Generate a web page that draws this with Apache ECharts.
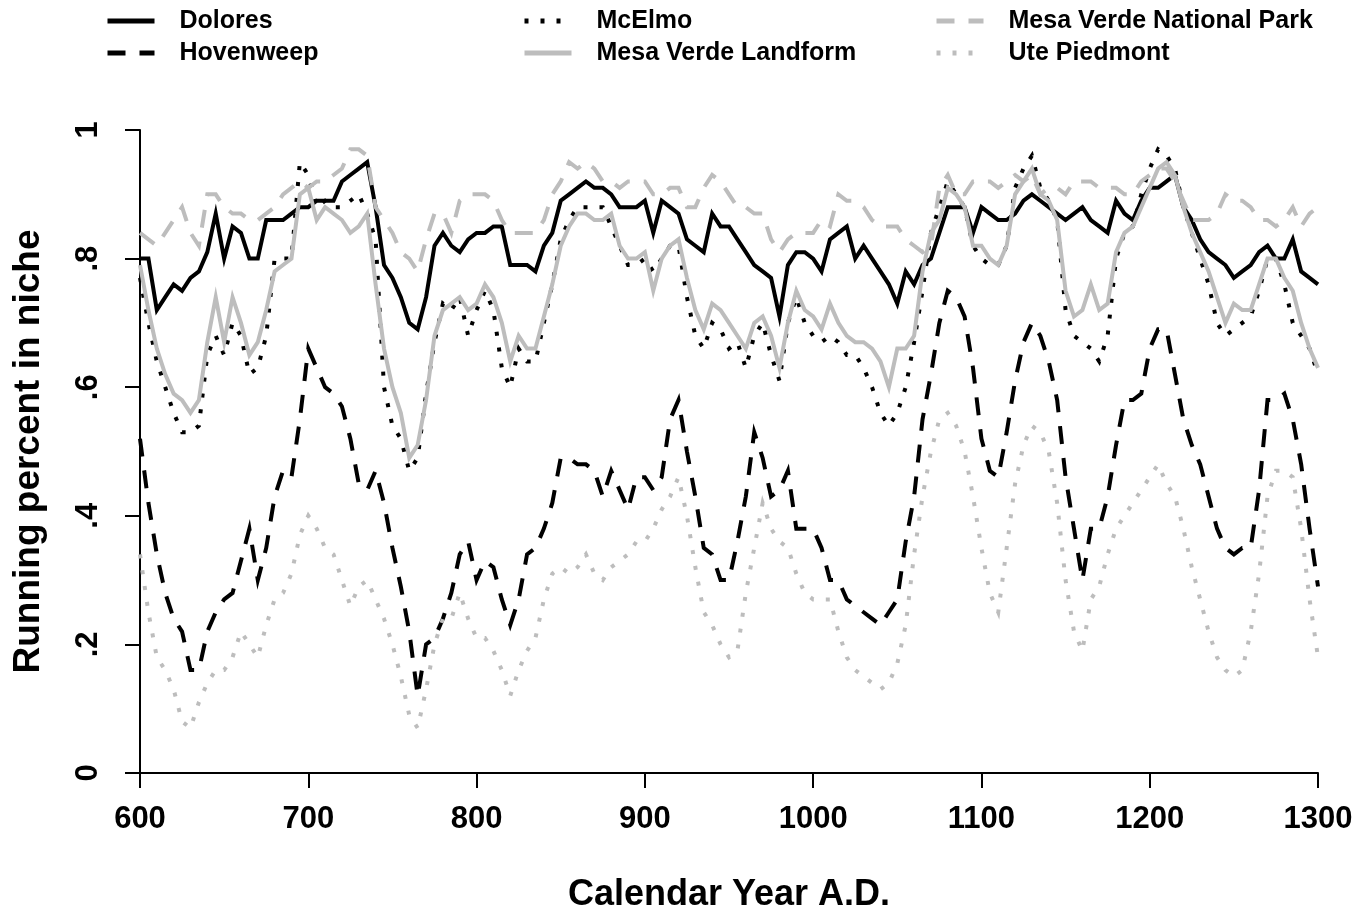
<!DOCTYPE html>
<html>
<head>
<meta charset="utf-8">
<title>Running percent in niche</title>
<script src="https://cdn.jsdelivr.net/npm/echarts@6/dist/echarts.min.js"></script>
<style>
    html, body { margin: 0; padding: 0; background: #fff; }
    #chart { width: 1371px; height: 914px; }
</style>
</head>
<body>
<div id="chart"></div>
<script>
// Годы отсчётов: шаг 5 лет, 600..1300
const years = [];
for (let y = 600; y <= 1300; y += 5) {
    years.push(y);
}

// Значения, по 10 точек в строке (50 лет)
const dolores = [
    0.80, 0.80, 0.72, 0.74, 0.76, 0.75, 0.77, 0.78, 0.81, 0.87,
    0.80, 0.85, 0.84, 0.80, 0.80, 0.86, 0.86, 0.86, 0.87, 0.88,
    0.88, 0.89, 0.89, 0.89, 0.92, 0.93, 0.94, 0.95, 0.88, 0.79,
    0.77, 0.74, 0.70, 0.69, 0.74, 0.82, 0.84, 0.82, 0.81, 0.83,
    0.84, 0.84, 0.85, 0.85, 0.79, 0.79, 0.79, 0.78, 0.82, 0.84,
    0.89, 0.90, 0.91, 0.92, 0.91, 0.91, 0.90, 0.88, 0.88, 0.88,
    0.89, 0.84, 0.89, 0.88, 0.87, 0.83, 0.82, 0.81, 0.87, 0.85,
    0.85, 0.83, 0.81, 0.79, 0.78, 0.77, 0.71, 0.79, 0.81, 0.81,
    0.80, 0.78, 0.83, 0.84, 0.85, 0.80, 0.82, 0.80, 0.78, 0.76,
    0.73, 0.78, 0.76, 0.79, 0.80, 0.84, 0.88, 0.88, 0.88, 0.84,
    0.88, 0.87, 0.86, 0.86, 0.87, 0.89, 0.90, 0.89, 0.88, 0.87,
    0.86, 0.87, 0.88, 0.86, 0.85, 0.84, 0.89, 0.87, 0.86, 0.89,
    0.91, 0.91, 0.92, 0.93, 0.88, 0.86, 0.83, 0.81, 0.80, 0.79,
    0.77, 0.78, 0.79, 0.81, 0.82, 0.80, 0.80, 0.83, 0.78, 0.77,
    0.76
];

const hovenweep = [
    0.52, 0.42, 0.34, 0.28, 0.24, 0.22, 0.16, 0.16, 0.22, 0.25,
    0.27, 0.28, 0.33, 0.38, 0.30, 0.35, 0.43, 0.47, 0.46, 0.55,
    0.66, 0.63, 0.60, 0.59, 0.57, 0.52, 0.45, 0.44, 0.47, 0.42,
    0.35, 0.29, 0.22, 0.12, 0.20, 0.21, 0.24, 0.28, 0.34, 0.36,
    0.30, 0.33, 0.32, 0.27, 0.23, 0.27, 0.34, 0.35, 0.38, 0.42,
    0.49, 0.49, 0.48, 0.48, 0.47, 0.43, 0.47, 0.44, 0.41, 0.46,
    0.46, 0.44, 0.46, 0.55, 0.58, 0.50, 0.43, 0.35, 0.34, 0.30,
    0.30, 0.36, 0.43, 0.53, 0.49, 0.43, 0.44, 0.47, 0.38, 0.38,
    0.38, 0.35, 0.30, 0.30, 0.27, 0.26, 0.25, 0.24, 0.23, 0.25,
    0.27, 0.36, 0.43, 0.55, 0.62, 0.70, 0.75, 0.74, 0.71, 0.63,
    0.52, 0.47, 0.46, 0.53, 0.61, 0.67, 0.70, 0.68, 0.64, 0.58,
    0.46, 0.38, 0.30, 0.38, 0.38, 0.43, 0.51, 0.58, 0.58, 0.59,
    0.66, 0.69, 0.69, 0.62, 0.55, 0.51, 0.48, 0.43, 0.38, 0.35,
    0.34, 0.35, 0.35, 0.44, 0.58, 0.58, 0.59, 0.55, 0.48, 0.38,
    0.29
];

const mcElmo = [
    0.77, 0.70, 0.64, 0.60, 0.56, 0.53, 0.53, 0.54, 0.65, 0.68,
    0.65, 0.70, 0.68, 0.62, 0.63, 0.68, 0.80, 0.80, 0.80, 0.95,
    0.93, 0.88, 0.89, 0.88, 0.88, 0.89, 0.90, 0.87, 0.83, 0.60,
    0.54, 0.52, 0.47, 0.49, 0.59, 0.67, 0.73, 0.72, 0.74, 0.68,
    0.72, 0.75, 0.72, 0.63, 0.60, 0.66, 0.64, 0.64, 0.70, 0.76,
    0.83, 0.86, 0.88, 0.88, 0.88, 0.88, 0.85, 0.82, 0.79, 0.79,
    0.80, 0.78, 0.80, 0.82, 0.82, 0.74, 0.68, 0.66, 0.70, 0.69,
    0.66, 0.67, 0.63, 0.68, 0.70, 0.65, 0.61, 0.70, 0.74, 0.70,
    0.68, 0.67, 0.68, 0.67, 0.65, 0.65, 0.63, 0.60, 0.56, 0.54,
    0.56, 0.60, 0.67, 0.75, 0.84, 0.88, 0.92, 0.90, 0.88, 0.82,
    0.80, 0.79, 0.79, 0.82, 0.91, 0.94, 0.96, 0.91, 0.89, 0.86,
    0.72, 0.68, 0.67, 0.66, 0.64, 0.68, 0.80, 0.84, 0.85, 0.90,
    0.94, 0.97, 0.96, 0.94, 0.88, 0.84, 0.80, 0.76, 0.70, 0.68,
    0.69, 0.70, 0.71, 0.75, 0.80, 0.80, 0.76, 0.70, 0.68, 0.66,
    0.62
];

const mvLandform = [
    0.79, 0.72, 0.66, 0.62, 0.59, 0.58, 0.56, 0.58, 0.67, 0.74,
    0.67, 0.74, 0.70, 0.65, 0.67, 0.72, 0.78, 0.79, 0.80, 0.90,
    0.91, 0.86, 0.88, 0.87, 0.86, 0.84, 0.85, 0.87, 0.76, 0.66,
    0.60, 0.56, 0.49, 0.51, 0.58, 0.68, 0.72, 0.73, 0.74, 0.72,
    0.73, 0.76, 0.74, 0.70, 0.64, 0.68, 0.66, 0.66, 0.71, 0.76,
    0.82, 0.85, 0.87, 0.87, 0.86, 0.86, 0.87, 0.82, 0.80, 0.80,
    0.81, 0.75, 0.80, 0.82, 0.83, 0.77, 0.72, 0.69, 0.73, 0.72,
    0.70, 0.68, 0.66, 0.70, 0.71, 0.68, 0.63, 0.70, 0.75, 0.72,
    0.71, 0.69, 0.73, 0.70, 0.68, 0.67, 0.67, 0.66, 0.64, 0.60,
    0.66, 0.66, 0.68, 0.78, 0.84, 0.86, 0.91, 0.90, 0.88, 0.82,
    0.82, 0.80, 0.79, 0.82, 0.90, 0.92, 0.94, 0.90, 0.89, 0.86,
    0.75, 0.71, 0.72, 0.76, 0.72, 0.73, 0.81, 0.84, 0.85, 0.88,
    0.91, 0.94, 0.95, 0.93, 0.88, 0.84, 0.81, 0.78, 0.74, 0.70,
    0.73, 0.72, 0.72, 0.76, 0.80, 0.80, 0.77, 0.75, 0.70, 0.66,
    0.63
];

const mvNationalPark = [
    0.84, 0.83, 0.82, 0.84, 0.86, 0.88, 0.84, 0.82, 0.90, 0.90,
    0.88, 0.87, 0.87, 0.86, 0.86, 0.87, 0.88, 0.90, 0.91, 0.92,
    0.91, 0.92, 0.92, 0.93, 0.94, 0.97, 0.97, 0.96, 0.88, 0.86,
    0.84, 0.81, 0.80, 0.78, 0.83, 0.87, 0.87, 0.84, 0.89, 0.90,
    0.90, 0.90, 0.89, 0.86, 0.84, 0.84, 0.84, 0.84, 0.86, 0.90,
    0.92, 0.95, 0.94, 0.95, 0.94, 0.92, 0.92, 0.91, 0.92, 0.92,
    0.92, 0.90, 0.90, 0.91, 0.91, 0.88, 0.88, 0.91, 0.93, 0.92,
    0.90, 0.88, 0.88, 0.87, 0.87, 0.83, 0.81, 0.83, 0.84, 0.84,
    0.84, 0.86, 0.85, 0.90, 0.89, 0.89, 0.88, 0.86, 0.85, 0.85,
    0.85, 0.83, 0.82, 0.81, 0.82, 0.91, 0.93, 0.90, 0.90, 0.92,
    0.92, 0.92, 0.91, 0.92, 0.93, 0.92, 0.93, 0.90, 0.91, 0.91,
    0.90, 0.92, 0.92, 0.92, 0.91, 0.91, 0.91, 0.90, 0.90, 0.92,
    0.93, 0.94, 0.94, 0.92, 0.89, 0.86, 0.86, 0.86, 0.87, 0.90,
    0.89, 0.89, 0.88, 0.86, 0.86, 0.85, 0.86, 0.88, 0.85, 0.87,
    0.88
];

const utePiedmont = [
    0.34, 0.25, 0.18, 0.16, 0.13, 0.08, 0.07, 0.11, 0.14, 0.16,
    0.16, 0.18, 0.22, 0.20, 0.18, 0.23, 0.27, 0.28, 0.31, 0.37,
    0.40, 0.38, 0.35, 0.34, 0.30, 0.26, 0.29, 0.30, 0.27, 0.24,
    0.20, 0.15, 0.09, 0.07, 0.13, 0.20, 0.24, 0.24, 0.28, 0.24,
    0.21, 0.21, 0.19, 0.16, 0.12, 0.16, 0.19, 0.21, 0.27, 0.31,
    0.32, 0.31, 0.32, 0.34, 0.31, 0.30, 0.32, 0.33, 0.34, 0.36,
    0.36, 0.38, 0.41, 0.43, 0.46, 0.40, 0.32, 0.25, 0.23, 0.20,
    0.18, 0.19, 0.28, 0.35, 0.42, 0.38, 0.36, 0.35, 0.31, 0.28,
    0.27, 0.27, 0.27, 0.22, 0.18, 0.16, 0.15, 0.14, 0.13, 0.14,
    0.17, 0.23, 0.34, 0.43, 0.50, 0.55, 0.56, 0.54, 0.50, 0.43,
    0.35, 0.28, 0.25, 0.35, 0.45, 0.51, 0.54, 0.53, 0.50, 0.42,
    0.30, 0.22, 0.19, 0.27, 0.29, 0.34, 0.38, 0.40, 0.42, 0.44,
    0.46, 0.48, 0.45, 0.43, 0.38, 0.32, 0.27, 0.22, 0.18, 0.16,
    0.15, 0.16, 0.22, 0.31, 0.43, 0.47, 0.47, 0.46, 0.38, 0.27,
    0.18
];

const yTickLabels = { 0: '0', 0.2: '.2', 0.4: '.4', 0.6: '.6', 0.8: '.8', 1: '1' };

const fontFamily = '"Liberation Sans", Arial, Helvetica, sans-serif';
const black = '#000000';
const gray = '#bdbdbd';
const dashed = [18, 14];
const dotted = [4, 12];

function makeSeries(name, values, color, dash) {
    return {
        name: name,
        type: 'line',
        data: years.map(function (year, i) {
            return [year, values[i]];
        }),
        symbol: 'none',
        silent: true,
        lineStyle: {
            color: color,
            width: 4,
            type: dash,
            cap: 'butt',
            join: 'miter'
        },
        itemStyle: { color: color }
    };
}

function makeLegend(left, names) {
    return {
        orient: 'vertical',
        left: left,
        top: 2,
        itemWidth: 47,
        itemHeight: 14,
        itemGap: 4,
        selectedMode: false,
        data: names,
        // прячем кружок-символ, оставляем только линию
        itemStyle: { opacity: 0, borderWidth: 0 },
        lineStyle: { width: 5 },
        textStyle: {
            fontFamily: fontFamily,
            fontWeight: 'bold',
            fontSize: 25,
            color: black,
            lineHeight: 28,
            padding: [0, 0, 0, 20]
        }
    };
}

const chart = echarts.init(document.getElementById('chart'), null, { renderer: 'canvas' });

chart.setOption({
    animation: false,
    backgroundColor: '#ffffff',
    legend: [
        makeLegend(100, ['Dolores', 'Hovenweep']),
        makeLegend(517, ['McElmo', 'Mesa Verde Landform']),
        makeLegend(929, ['Mesa Verde National Park', 'Ute Piedmont'])
    ],
    grid: {
        left: 140,
        right: 53,
        top: 130,
        bottom: 141,
        containLabel: false,
        outerBoundsMode: 'none'
    },
    xAxis: {
        type: 'value',
        min: 600,
        max: 1300,
        interval: 100,
        name: 'Calendar Year A.D.',
        nameLocation: 'middle',
        nameGap: 104,
        nameTextStyle: {
            fontFamily: fontFamily,
            fontWeight: 'bold',
            fontSize: 36,
            color: black
        },
        axisLine: { show: true, lineStyle: { color: black, width: 2 } },
        axisTick: { show: true, inside: false, length: 15, lineStyle: { color: black, width: 2 } },
        axisLabel: {
            margin: 31,
            fontFamily: fontFamily,
            fontWeight: 'bold',
            fontSize: 31,
            color: black,
            showMinLabel: true,
            showMaxLabel: true,
            formatter: function (value) {
                return String(value);
            }
        },
        splitLine: { show: false }
    },
    yAxis: {
        type: 'value',
        min: 0,
        max: 1,
        interval: 0.2,
        name: 'Running percent in niche',
        nameLocation: 'middle',
        nameGap: 93,
        nameTextStyle: {
            fontFamily: fontFamily,
            fontWeight: 'bold',
            fontSize: 37,
            color: black
        },
        axisLine: { show: true, lineStyle: { color: black, width: 2 } },
        axisTick: { show: true, inside: false, length: 15, lineStyle: { color: black, width: 2 } },
        axisLabel: {
            rotate: 90,
            margin: 36,
            fontFamily: fontFamily,
            fontWeight: 'bold',
            fontSize: 31,
            color: black,
            formatter: function (value) {
                const key = Math.round(value * 10) / 10;
                return yTickLabels[key] !== undefined ? yTickLabels[key] : '';
            }
        },
        splitLine: { show: false }
    },
    series: [
        makeSeries('Dolores', dolores, black, 'solid'),
        makeSeries('Hovenweep', hovenweep, black, dashed),
        makeSeries('McElmo', mcElmo, black, dotted),
        makeSeries('Mesa Verde Landform', mvLandform, gray, 'solid'),
        makeSeries('Mesa Verde National Park', mvNationalPark, gray, dashed),
        makeSeries('Ute Piedmont', utePiedmont, gray, dotted)
    ]
});

window.addEventListener('resize', function () {
    chart.resize();
});
</script>
</body>
</html>
